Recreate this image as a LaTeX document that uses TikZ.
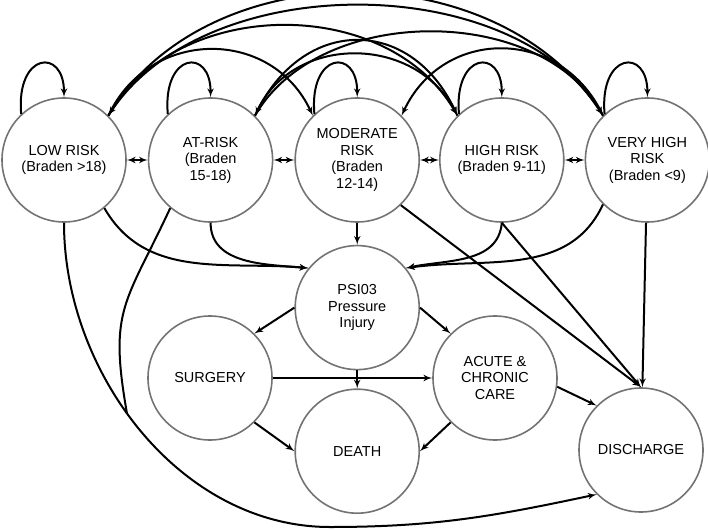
\documentclass[tikz,border=0pt]{standalone}
\usepackage{fontspec}
\setmainfont{Liberation Sans}
\usetikzlibrary{arrows,positioning,calc}

\begin{document}
\begin{tikzpicture}[
    x=1pt, y=1pt,
    node distance=21pt,
    state/.style={circle, draw=black!55, line width=1.6pt, minimum size=124pt, inner sep=0pt, align=center, font=\fontsize{14.5}{16.5}\selectfont},
    arrow/.style={->, line width=2pt, >=latex'},
    plain/.style={line width=2pt}
]
    \useasboundingbox (0,0) rectangle (708,-529);

    % risk states
    \node[state] (low) at (64,-160) {LOW RISK\\(Braden >18)};
    \node[state, right=of low] (atrisk) {AT-RISK\\(Braden\\15-18)};
    \node[state, right=of atrisk] (moderate) {MODERATE\\RISK\\(Braden\\12-14)};
    \node[state, right=19pt of moderate] (high) {HIGH RISK\\(Braden 9-11)};
    \node[state, right=20pt of high] (veryhigh) {VERY HIGH\\RISK\\(Braden <9)};

    % outcomes
    \node[state, below=22pt of moderate] (psi) {PSI03\\Pressure\\Injury};
    \node[state] (surgery) at (210,-378) {SURGERY};
    \node[state, below=18pt of psi] (death) {DEATH};
    \node[state] (acute) at (495,-378) {ACUTE \&\\CHRONIC\\CARE};
    \node[state] (discharge) at (641,-450) {DISCHARGE};

    \coordinate (bottom) at (330,-527);

    % staying in the same state
    \foreach \s in {low, atrisk, moderate, high, veryhigh}
        \draw[arrow] (\s.133) .. controls +(95:62) and +(90:50) .. (\s.90);

    % neighbours
    \draw[arrow, <->] (low) -- (atrisk);
    \draw[arrow, <->] (atrisk) -- (moderate);
    \draw[arrow, <->] (moderate) -- (high);
    \draw[arrow, <->] (high) -- (veryhigh);

    % long jumps
    \draw[arrow] (low.45) to[out=65, in=115, looseness=1.22] (moderate.135);
    \draw[arrow] (low.45) to[out=60, in=120, looseness=1.02] (high.135);
    \draw[arrow] (low.45) to[out=58, in=122, looseness=0.9] (veryhigh.135);
    \draw[arrow] (veryhigh.135) to[out=122, in=58, looseness=1.0] (low.45);
    \draw[arrow] (atrisk.45) to[out=65, in=115, looseness=1.4] (high.135);
    \draw[arrow] (high.135) to[out=115, in=65, looseness=1.15] (atrisk.45);
    \draw[arrow] (atrisk.45) to[out=60, in=120, looseness=0.95] (veryhigh.135);
    \draw[arrow] (veryhigh.135) to[out=115, in=65, looseness=1.25] (moderate.45);

    % into PSI03
    \draw[arrow] (low.-50) to[out=-60, in=175] (psi.141);
    \draw[arrow] (atrisk.-90) to[out=-90, in=175] (psi.141);
    \draw[arrow] (moderate) -- (psi);
    \draw[arrow] (high.-90) to[out=-95, in=12] (psi.39);
    \draw[arrow] (veryhigh.-135) to[out=-115, in=8] (psi.39);

    % into discharge
    \draw[arrow] (moderate.-46) -- (discharge.90);
    \draw[arrow] (high.-90) -- (discharge.90);
    \draw[arrow] (veryhigh) -- (discharge);
    \draw[arrow] (low.-90) to[out=-90, in=180, looseness=0.95] coordinate[pos=0.45] (merge) (bottom)
        to[out=0, in=192] (discharge.-135);
    \draw[plain] (atrisk.-130) to[out=-115, in=100, looseness=1.3] (merge);

    % after the injury
    \draw[arrow] (psi.180) -- (surgery.45);
    \draw[arrow] (psi.0) -- (acute.135);
    \draw[arrow] (psi) -- (death);
    \draw[arrow] (surgery) -- (acute);
    \draw[arrow] (surgery.-45) -- (death.180);
    \draw[arrow] (acute.-135) -- (death.0);
    \draw[arrow] (acute.-8) -- (discharge.135);
\end{tikzpicture}
\end{document}
